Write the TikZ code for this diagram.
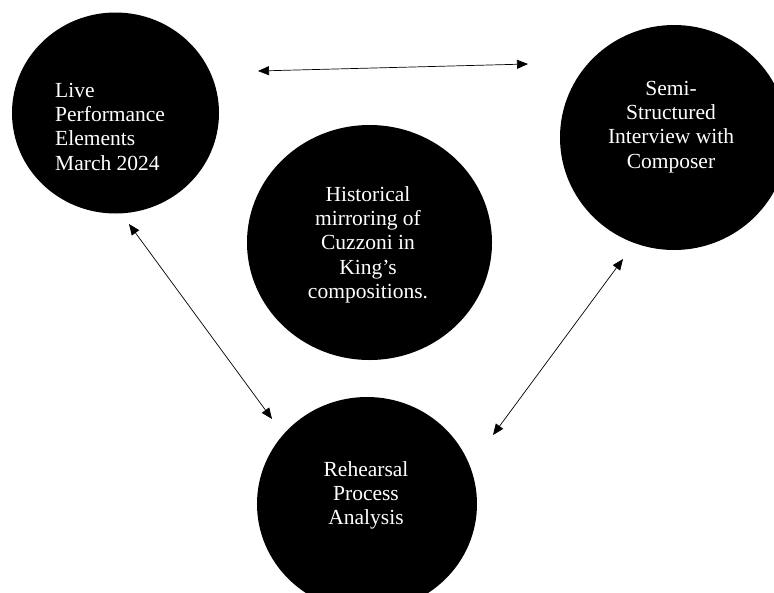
\documentclass[tikz,border=0pt]{standalone}
\usepackage{fontspec}
\setmainfont{Liberation Serif}
\usetikzlibrary{arrows.meta,shapes.geometric}
\begin{document}
\begin{tikzpicture}[x=1pt,y=-1pt,
  blob/.style n args={2}{ellipse,fill=black,inner sep=0pt,minimum width=#1,minimum height=#2},
  lbl/.style={text=white,inner sep=0pt,font=\fontsize{21.5}{24.3}\selectfont},
  link/.style={line width=0.7pt,{Triangle[length=11pt,width=9pt]}-{Triangle[length=11pt,width=9pt]}}]
\useasboundingbox (0,0) rectangle (774,592);
\clip (0,0) rectangle (774,592);
% circles
\node[blob={207pt}{201pt}] (live) at (115.5,113) {};
\node[blob={228pt}{225pt}] (interview) at (674,137.5) {};
\node[blob={245pt}{235pt}] (hist) at (369.5,242.5) {};
\node[blob={220pt}{214pt}] (rehearsal) at (367,504) {};
% texts
\node[lbl,anchor=north west,align=left] (liveT) at (55,80) {\strut Live\\Performance\\Elements\\March 2024};
\node[lbl,anchor=north,align=center] (interviewT) at (671,78) {\strut Semi-\\Structured\\Interview with\\Composer};
\node[lbl,anchor=north,align=center] (histT) at (368,184) {\strut Historical\\mirroring of\\Cuzzoni in\\King’s\\compositions.};
\node[lbl,anchor=north,align=center] (rehearsalT) at (366,459) {\strut Rehearsal\\Process\\Analysis};
% connector ends
\coordinate (hL) at (258,71);
\coordinate (hR) at (528,64);
\coordinate (dL1) at (129,224);
\coordinate (dL2) at (272,419);
\coordinate (dR1) at (623,259);
\coordinate (dR2) at (493,435);
\draw[link] (hL) -- (hR);
\draw[link] (dL1) -- (dL2);
\draw[link] (dR1) -- (dR2);
\end{tikzpicture}
\end{document}
